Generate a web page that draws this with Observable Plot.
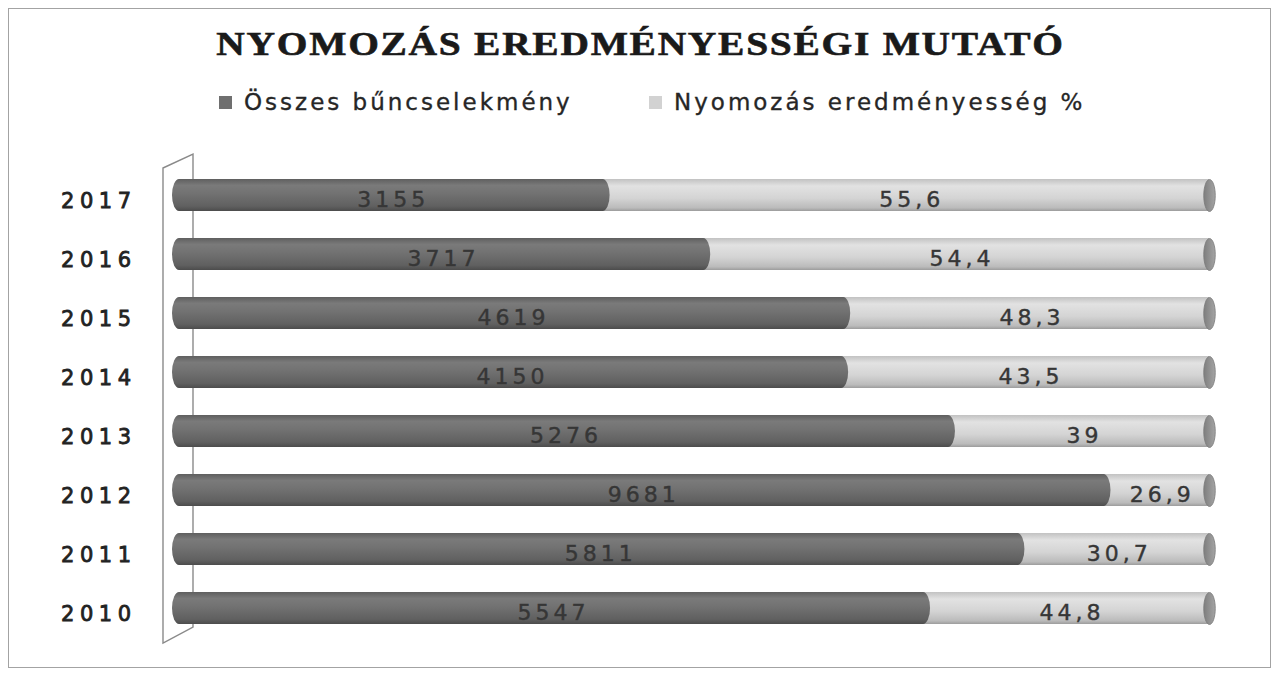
<!DOCTYPE html>
<html>
<head>
<meta charset="utf-8">
<script src="https://cdn.jsdelivr.net/npm/d3@7"></script>
<script src="https://cdn.jsdelivr.net/npm/@observablehq/plot@0.6"></script>
<style>
html,body{margin:0;padding:0;background:#fff;}
#page{position:relative;width:1281px;height:674px;overflow:hidden;background:#fff;}
#frame{position:absolute;left:8px;top:8px;width:1263px;height:660px;border:1.5px solid #a3a3a3;box-sizing:border-box;}
#title{position:absolute;left:0;width:1281px;top:24px;text-align:center;font-family:"Liberation Serif","Times New Roman",serif;font-weight:bold;font-size:34px;letter-spacing:1.5px;color:#1a1a1a;transform:scaleX(1.16);line-height:40px;white-space:nowrap;-webkit-text-stroke:0.6px #1a1a1a;}
#legend{position:absolute;top:87px;left:0;width:1281px;height:30px;font-family:"DejaVu Sans",sans-serif;font-size:23px;letter-spacing:3px;color:#262626;-webkit-text-stroke:0.35px #262626;}
.item{position:absolute;top:0;white-space:nowrap;line-height:30px;}
.sw{display:inline-block;width:13px;height:13px;margin-right:12px;vertical-align:1px;}
#chart{position:absolute;left:0;top:134px;}
</style>
</head>
<body>
<div id="page">
  <div id="frame"></div>
  <div id="title">NYOMOZÁS EREDMÉNYESSÉGI MUTATÓ</div>
  <div id="legend"></div>
  <div id="chart"></div>
</div>
<script>
// ---- data ----
const years = ["2017", "2016", "2015", "2014", "2013", "2012", "2011", "2010"];
// label values
const crimes = [3155, 3717, 4619, 4150, 5276, 9681, 5811, 5547];          // Összes bűncselekmény
const efficiency = [55.6, 54.4, 48.3, 43.5, 39, 26.9, 30.7, 44.8];        // Nyomozás eredményesség %
// share of each (100%-stacked) bar drawn in the dark series
const darkShare = [42.2, 51.9, 65.4, 65.2, 75.5, 90.5, 82.2, 73.1];
const seriesNames = ["Összes bűncselekmény", "Nyomozás eredményesség %"];
const seriesColors = ["#6f6f6f", "#d2d2d2"];

const rows = years.map((y, i) => ({
  year: y,
  crimes: crimes[i],
  eff: efficiency[i],
  dark: darkShare[i],
  light: 100 - darkShare[i]
}));

// legend
const legend = document.getElementById("legend");
const legendLeft = [219, 649];
seriesNames.forEach((n, i) => {
  const it = document.createElement("div");
  it.className = "item";
  it.style.left = legendLeft[i] + "px";
  it.innerHTML = `<span class="sw" style="background:${seriesColors[i]}"></span>${n}`;
  legend.appendChild(it);
});

// ellipse symbol for the cylinder end caps
const ellipseSym = {
  draw(ctx, size) {
    const r = Math.sqrt(size / Math.PI);
    const a = r * 0.36, b = r, k = 0.5523;
    ctx.moveTo(0, -b);
    ctx.bezierCurveTo(k * a, -b, a, -k * b, a, 0);
    ctx.bezierCurveTo(a, k * b, k * a, b, 0, b);
    ctx.bezierCurveTo(-k * a, b, -a, k * b, -a, 0);
    ctx.bezierCurveTo(-a, -k * b, -k * a, -b, 0, -b);
    ctx.closePath();
  }
};

const fmt = v => String(v).replace(".", ",");

const chart = Plot.plot({
  width: 1281,
  height: 534,
  marginLeft: 172,
  marginRight: 72,
  marginTop: 14,
  marginBottom: 14,
  x: {domain: [0, 100], axis: null},
  y: {domain: years, padding: 0.464},
  style: {fontFamily: "'DejaVu Sans', sans-serif", background: "transparent"},
  marks: [
    Plot.barX(rows, {y: "year", x1: "dark", x2: d => d.dark + d.light, fill: "url(#gLight)", insetLeft: -12}),
    Plot.barX(rows, {y: "year", x: "dark", fill: "url(#gDark)", rx: 7, ry: 16}),
    Plot.dot(rows, {x: d => d.dark + d.light, y: "year", r: 16, symbol: ellipseSym, fill: "url(#gCap)", stroke: "#7a7a7a", strokeWidth: 0.8}),
    Plot.text(rows, {x: d => d.dark / 2, y: "year", text: d => String(d.crimes), dy: 4, fontSize: 22, fill: "#363636"}),
    Plot.text(rows, {x: d => d.dark + d.light / 2, y: "year", text: d => fmt(d.eff), dy: 4, fontSize: 22, fill: "#363636"}),
    Plot.axisY({tickSize: 0, tickPadding: 36, fontSize: 21, fill: "#222", label: null, dy: 6})
  ]
});

// gradients
const ns = "http://www.w3.org/2000/svg";
const defs = document.createElementNS(ns, "defs");
defs.innerHTML = `
<linearGradient id="gDark" x1="0" y1="0" x2="0" y2="1">
  <stop offset="0" stop-color="#5f5f5f"/>
  <stop offset="0.2" stop-color="#7a7a7a"/>
  <stop offset="0.45" stop-color="#727272"/>
  <stop offset="0.85" stop-color="#606060"/>
  <stop offset="1" stop-color="#4c4c4c"/>
</linearGradient>
<linearGradient id="gLight" x1="0" y1="0" x2="0" y2="1">
  <stop offset="0" stop-color="#c2c2c2"/>
  <stop offset="0.22" stop-color="#e2e2e2"/>
  <stop offset="0.6" stop-color="#d4d4d4"/>
  <stop offset="0.9" stop-color="#bbbbbb"/>
  <stop offset="1" stop-color="#9c9c9c"/>
</linearGradient>
<linearGradient id="gCap" x1="0" y1="0" x2="1" y2="0">
  <stop offset="0" stop-color="#7e7e7e"/>
  <stop offset="1" stop-color="#a4a4a4"/>
</linearGradient>`;
chart.insertBefore(defs, chart.firstChild);

// 3D wall behind the bars, derived from scales
const xs = chart.scale("x"), ysc = chart.scale("y");
const x0 = xs.apply(0);
const [r0, r1] = ysc.range;
const wall = document.createElementNS(ns, "path");
wall.setAttribute("d", `M${x0 - 9},${r0 + 20} L${x0 + 21},${r0 + 6} L${x0 + 21},${r1 - 27} L${x0 - 9},${r1 - 11} Z`);
wall.setAttribute("fill", "none");
wall.setAttribute("stroke", "#8a8a8a");
wall.setAttribute("stroke-width", "1.4");
defs.after(wall);

// letter spacing / weight to match the wide scanned lettering
chart.querySelectorAll('g[aria-label="text"] text').forEach(t => {
  t.style.letterSpacing = "4px"; t.setAttribute("dx", "2");
  t.style.stroke = "#363636"; t.style.strokeWidth = "0.4px";
});
chart.querySelectorAll('g[aria-label="y-axis tick label"] text').forEach(t => {
  t.style.letterSpacing = "5.5px";
  t.style.stroke = "#222"; t.style.strokeWidth = "0.8px";
});

document.getElementById("chart").appendChild(chart);
</script>
</body>
</html>
